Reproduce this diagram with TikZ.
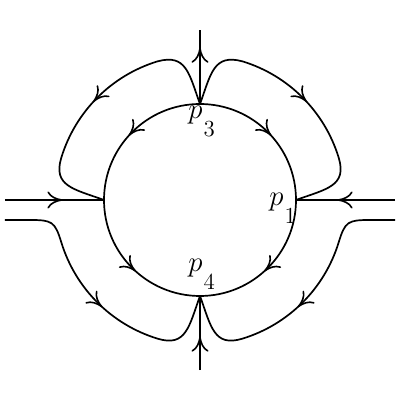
\documentclass[tikz,border=0pt]{standalone}
\usetikzlibrary{arrows.meta,decorations.markings}
\begin{document}
\begin{tikzpicture}[x=0.5pt,y=0.5pt,
  >={Computer Modern Rightarrow[length=7.5pt,width=8.5pt]},
  flow/.style={line width=0.85pt, postaction={decorate},
    decoration={markings, mark=at position #1 with {\arrow[line width=0.8pt]{>}}}},
  flow/.default=0.52,
  lbl/.style={font=\fontsize{13.5}{16}\selectfont, inner sep=0pt, anchor=base west}]
\useasboundingbox (-200,-200) rectangle (200,200);
\newcommand{\plab}[1]{$p$\kern0.5pt\raisebox{-9pt}{\fontsize{11.5}{12}\selectfont #1}}
\coordinate (p3) at (0,96);
\coordinate (p4) at (0,-96);
\coordinate (p1) at (96,0);
\coordinate (p2) at (-96,0);
\coordinate (T) at (0,170);
\coordinate (B) at (0,-170);
\coordinate (L) at (-195,0);
\coordinate (R) at (195,0);
\coordinate (BL) at (-195,-20);
\coordinate (BR) at (195,-20);
\coordinate (BLc) at (-170,-20);
\coordinate (BRc) at (170,-20);
% straight lines
\draw[flow=0.58] (L) -- (p2);
\draw[flow=0.58] (R) -- (p1);
\draw[flow=0.76] (p3) -- (T);
\draw[flow=0.45] (B) -- (p4);
% inner circle
\draw[flow=0.53] (p3) arc[start angle=90,end angle=180,radius=96];
\draw[flow=0.53] (p3) arc[start angle=90,end angle=0,radius=96];
\draw[flow=0.53] (p2) arc[start angle=180,end angle=270,radius=96];
\draw[flow=0.53] (p1) arc[start angle=0,end angle=-90,radius=96];
% outer top loops
\draw[flow] (p3) .. controls +(110:32) and +(15:30) .. (107:145)
  arc[start angle=107,end angle=163,radius=145]
  .. controls +(253:30) and +(160:32) .. (p2);
\draw[flow] (p3) .. controls +(70:32) and +(165:30) .. (73:145)
  arc[start angle=73,end angle=17,radius=145]
  .. controls +(287:30) and +(20:32) .. (p1);
% outer bottom curves
\draw[flow] (BL) -- (BLc) .. controls +(0:22) and +(107:22) .. (197:145)
  arc[start angle=197,end angle=253,radius=145]
  .. controls +(-17:30) and +(-110:32) .. (p4);
\draw[flow] (BR) -- (BRc) .. controls +(180:22) and +(73:22) .. (-17:145)
  arc[start angle=-17,end angle=-73,radius=145]
  .. controls +(197:30) and +(-70:32) .. (p4);
% labels
\node[lbl] (l3) at (-12,81.5) {\plab{3}};
\node[lbl] (l1) at (69,-6) {\plab{1}};
\node[lbl] (l4) at (-12,-72) {\plab{4}};
\end{tikzpicture}
\end{document}
